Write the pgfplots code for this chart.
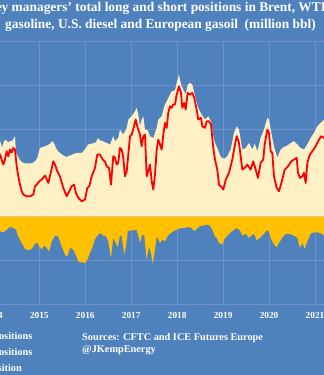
\documentclass[border=0pt]{standalone}
\usepackage{fontspec}
\setmainfont{Liberation Serif}
\usepackage{pgfplots}
\usepackage{pgfplotstable}
\pgfplotsset{compat=1.18}
\definecolor{bgblue}{RGB}{79,129,189}
\definecolor{gridblue}{RGB}{112,146,200}
\definecolor{cream}{RGB}{255,240,198}
\definecolor{gold}{RGB}{255,192,0}
\definecolor{netred}{RGB}{255,0,0}

\pgfplotstableread{
date long
2014.100 349
2014.144 349
2014.187 316
2014.231 345
2014.274 352
2014.318 339
2014.361 345
2014.405 345
2014.448 360
2014.470 368
2014.492 293
2014.535 275
2014.579 258
2014.644 246
2014.731 243
2014.818 243
2014.884 249
2014.949 264
2015.014 314
2015.079 319
2015.166 325
2015.232 334
2015.275 345
2015.319 337
2015.362 314
2015.406 299
2015.493 284
2015.580 273
2015.667 279
2015.754 288
2015.841 292
2015.928 292
2016.015 314
2016.059 330
2016.146 334
2016.233 340
2016.276 360
2016.320 349
2016.385 345
2016.466 337
2016.538 330
2016.610 368
2016.646 345
2016.718 360
2016.755 398
2016.827 375
2016.901 406
2016.936 444
2017.010 459
2017.082 482
2017.119 498
2017.154 467
2017.190 413
2017.227 444
2017.262 459
2017.299 398
2017.358 395
2017.408 368
2017.480 360
2017.554 406
2017.589 444
2017.663 459
2017.719 505
2017.771 528
2017.843 558
2017.880 573
2017.952 578
2017.989 612
2018.039 650
2018.083 604
2018.133 581
2018.185 558
2018.229 604
2018.279 612
2018.329 604
2018.372 566
2018.424 520
2018.474 490
2018.533 467
2018.605 444
2018.677 459
2018.736 436
2018.786 368
2018.823 337
2018.873 314
2018.947 273
2019.019 264
2019.091 276
2019.164 307
2019.236 383
2019.295 413
2019.345 398
2019.417 307
2019.491 314
2019.563 337
2019.635 307
2019.687 334
2019.744 299
2019.817 360
2019.889 398
2019.961 452
2019.998 444
2020.048 383
2020.107 322
2020.179 269
2020.253 307
2020.324 319
2020.396 325
2020.470 337
2020.542 345
2020.614 330
2020.688 314
2020.760 307
2020.832 330
2020.906 360
2020.977 383
2021.049 413
2021.123 429
2021.195 444
2021.250 450
}\longtable

\pgfplotstableread{
date short
2014.100 -67
2014.144 -67
2014.215 -72
2014.289 -60
2014.361 -47
2014.433 -52
2014.492 -60
2014.542 -90
2014.616 -120
2014.688 -148
2014.759 -154
2014.834 -148
2014.905 -124
2014.955 -118
2014.999 -136
2015.051 -151
2015.101 -133
2015.160 -143
2015.217 -159
2015.269 -113
2015.341 -87
2015.412 -90
2015.486 -136
2015.558 -174
2015.608 -182
2015.667 -143
2015.726 -148
2015.776 -166
2015.848 -205
2015.922 -209
2015.993 -212
2016.044 -197
2016.102 -166
2016.161 -136
2016.211 -102
2016.283 -82
2016.335 -75
2016.392 -87
2016.450 -90
2016.501 -113
2016.516 -136
2016.559 -189
2016.609 -97
2016.646 -113
2016.705 -139
2016.755 -87
2016.792 -90
2016.849 -174
2016.886 -136
2016.923 -67
2016.973 -63
2017.045 -63
2017.119 -60
2017.154 -90
2017.190 -120
2017.240 -82
2017.284 -87
2017.336 -197
2017.386 -136
2017.430 -166
2017.467 -215
2017.502 -174
2017.554 -90
2017.626 -120
2017.676 -105
2017.735 -113
2017.771 -97
2017.821 -82
2017.880 -72
2017.952 -63
2018.024 -56
2018.098 -52
2018.170 -52
2018.242 -47
2018.316 -52
2018.372 -67
2018.424 -56
2018.496 -44
2018.568 -41
2018.642 -37
2018.714 -41
2018.764 -60
2018.823 -90
2018.860 -97
2018.910 -120
2018.982 -128
2019.019 -105
2019.091 -87
2019.164 -72
2019.236 -60
2019.295 -52
2019.367 -63
2019.417 -87
2019.491 -78
2019.563 -97
2019.613 -87
2019.672 -78
2019.730 -108
2019.802 -97
2019.874 -82
2019.948 -63
2019.998 -67
2020.048 -105
2020.107 -128
2020.166 -139
2020.216 -120
2020.287 -97
2020.340 -82
2020.411 -78
2020.483 -82
2020.542 -87
2020.614 -97
2020.673 -143
2020.723 -120
2020.775 -148
2020.832 -113
2020.906 -78
2020.977 -72
2021.049 -72
2021.123 -75
2021.195 -87
2021.250 -90
}\shorttable

\pgfplotstableread{
date net
2014.100 284
2014.144 284
2014.215 238
2014.252 261
2014.289 299
2014.324 276
2014.361 307
2014.398 293
2014.433 314
2014.470 307
2014.507 230
2014.542 184
2014.579 146
2014.616 116
2014.651 101
2014.725 93
2014.797 93
2014.868 101
2014.905 139
2014.942 146
2014.999 162
2015.051 169
2015.123 188
2015.195 154
2015.247 200
2015.304 253
2015.341 238
2015.391 207
2015.449 184
2015.521 131
2015.595 93
2015.652 116
2015.704 139
2015.754 146
2015.798 108
2015.848 86
2015.922 70
2015.993 78
2016.044 131
2016.087 139
2016.139 184
2016.211 223
2016.261 284
2016.320 284
2016.379 261
2016.429 252
2016.466 230
2016.516 223
2016.559 146
2016.609 276
2016.646 269
2016.684 238
2016.718 246
2016.755 314
2016.792 307
2016.827 269
2016.864 184
2016.901 207
2016.936 284
2016.973 368
2017.010 375
2017.045 401
2017.097 444
2017.140 406
2017.190 375
2017.227 322
2017.262 368
2017.299 375
2017.336 184
2017.371 207
2017.408 238
2017.445 162
2017.480 124
2017.517 192
2017.554 307
2017.589 352
2017.626 330
2017.663 307
2017.698 375
2017.735 429
2017.771 406
2017.806 475
2017.843 505
2017.880 498
2017.915 513
2017.952 513
2017.989 558
2018.039 596
2018.083 566
2018.111 498
2018.155 520
2018.185 490
2018.229 566
2018.279 558
2018.329 566
2018.372 543
2018.424 490
2018.459 444
2018.518 452
2018.546 413
2018.605 406
2018.642 436
2018.692 436
2018.736 421
2018.786 314
2018.823 261
2018.873 215
2018.910 146
2018.982 131
2019.004 124
2019.056 169
2019.128 200
2019.199 261
2019.251 322
2019.295 368
2019.345 337
2019.382 276
2019.417 215
2019.469 223
2019.526 238
2019.600 215
2019.656 253
2019.708 215
2019.758 177
2019.817 246
2019.874 261
2019.904 330
2019.961 398
2019.998 383
2020.035 299
2020.070 292
2020.107 184
2020.166 131
2020.216 116
2020.287 169
2020.340 215
2020.411 230
2020.483 253
2020.542 261
2020.601 269
2020.629 200
2020.673 177
2020.723 184
2020.760 200
2020.797 154
2020.832 246
2020.890 284
2020.940 299
2021.014 322
2021.086 352
2021.136 368
2021.195 360
2021.250 362
}\nettable

\begin{document}
\begin{tikzpicture}[x=1pt,y=1pt]
\fill[bgblue] (0,0) rectangle (324,375);
\begin{scope}
\clip (0,0) rectangle (324,375);
\begin{axis}[
  at={(-13.49pt,71pt)}, anchor=south west,
  scale only axis, width=344.6pt, height=262.2pt,
  xmin=2013.85, xmax=2021.35,
  ymin=-400, ymax=800,
  xtick={2014,2015,2016,2017,2018,2019,2020,2021},
  xticklabels={2014,2015,2016,2017,2018,2019,2020,2021},
  ytick={-400,-200,0,200,400,600,800},
  yticklabels={},
  grid=major,
  major grid style={gridblue, line width=0.7pt},
  axis line style={draw=none},
  major tick length=0pt,
  xticklabel style={anchor=base, yshift=-14.7pt, text=white, font=\fontsize{9.3}{11}\selectfont\bfseries},
  clip=true,
]
\addplot[fill=cream, draw=none] table[x=date, y=long] {\longtable} \closedcycle;
\addplot[fill=gold, draw=none] table[x=date, y=short] {\shorttable} \closedcycle;
\addplot[netred, line width=1.8pt, line join=round] table[x=date, y=net] {\nettable};
\end{axis}
\begin{scope}[every node/.style={inner sep=0pt, text=white}]
\node[anchor=base west, font=\fontsize{13.4}{16}\selectfont\bfseries] at (1.5,363.5) {\llap{Mone}y managers' total long and short positions in Brent, WTI,};
\node[anchor=base west, font=\fontsize{13.4}{16}\selectfont\bfseries] at (5,346.7) {gasoline, U.S. diesel and European gasoil\ \ (million bbl)};
\node[anchor=base west, font=\fontsize{10.3}{12}\selectfont\bfseries] at (82,34.5) {Sources: CFTC and ICE Futures Europe};
\node[anchor=base west, font=\fontsize{10.3}{12}\selectfont\bfseries] at (82,22.3) {@JKempEnergy};
\node[anchor=base east, font=\fontsize{10.3}{12}\selectfont\bfseries] at (32.5,35.7) {Long positions};
\node[anchor=base east, font=\fontsize{10.3}{12}\selectfont\bfseries] at (32.5,19.5) {Short positions};
\node[anchor=base east, font=\fontsize{10.3}{12}\selectfont\bfseries] at (22,3.3) {Net position};
\end{scope}
\end{scope}
\pgfresetboundingbox
\useasboundingbox (0,0) rectangle (324,375);
\end{tikzpicture}
\end{document}
